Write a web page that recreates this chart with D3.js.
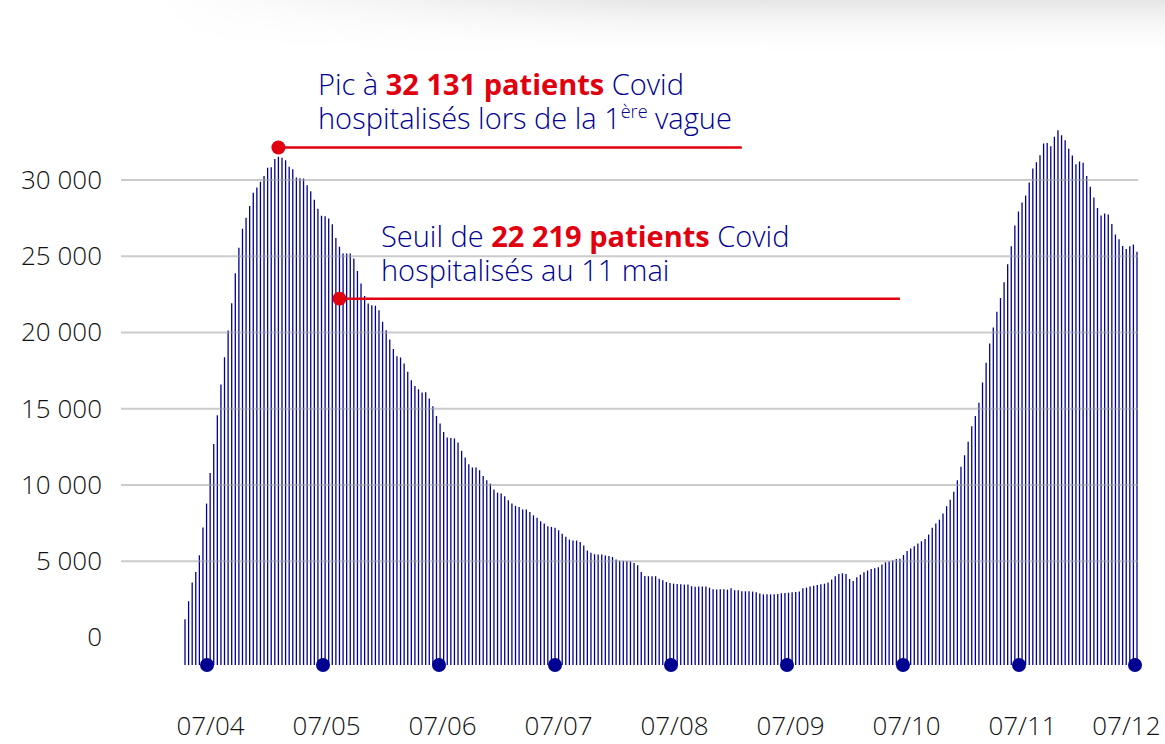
<!DOCTYPE html>
<html>
<head>
<meta charset="utf-8">
<script src="https://cdn.jsdelivr.net/npm/d3@7"></script>
<style>
  body { margin: 0; background: #fff; }
  svg { display: block; }
  svg text { font-family: 'Open Sans', Lato, sans-serif; }
  .tick text { font-size: 26px; font-weight: 300; fill: #111; }
  .note { font-size: 29px; font-weight: 300; fill: #000091; }
  .note .hl { font-weight: 700; fill: #e1000f; }
</style>
</head>
<body>
<div id="chart"></div>
<script>
// patients Covid hospitalises, un point par jour
var wave1 = [1190, 2380, 3600, 4300, 5390, 7210, 8780, 10790, 12690, 14580,
  16590, 18380, 20130, 21920, 23890, 25550, 26800, 27520, 28290, 29160,
  29510, 29880, 30270, 30800, 30840, 31370, 31520, 31460, 31300, 30870,
  30710, 30170, 30120, 30100, 29660, 29270, 28700, 28110, 27650, 27630,
  27480];
var decline = [27100, 26200, 25620, 25180, 25180, 25180, 24860, 24040, 23210, 22400,
  21900, 21790, 21750, 21460, 20700, 20150, 19540, 18910, 18450, 18360,
  17970, 17420, 16870, 16500, 16280, 16060, 16080, 15670, 15170, 14530,
  14030, 13480, 13110, 13090, 13050, 12790, 12240, 11800, 11360, 11150,
  11150, 10970, 10590, 10310, 10090, 9700, 9500, 9440, 9260, 9000,
  8780, 8630, 8560, 8390, 8390, 8230, 8010, 7860, 7620, 7470,
  7290, 7250, 7200, 7030];
var summer = [6810, 6600, 6420, 6360, 6360, 6270, 6030, 5700, 5550, 5460,
  5440, 5440, 5370, 5350, 5280, 5110, 5040, 5040, 5020, 5000,
  4890, 4740, 4300, 4040, 4020, 4020, 4020, 3860, 3750, 3640,
  3580, 3530, 3510, 3490, 3470, 3470, 3360, 3320, 3340, 3340,
  3340, 3270, 3160, 3140, 3160, 3160, 3140, 3230, 3100, 3100,
  3030, 3030, 3030, 3010, 2970, 2880, 2830, 2830, 2830, 2830,
  2860, 2900, 2920, 2940, 2970, 2990, 3010, 3230, 3270, 3340,
  3400, 3450, 3490, 3530, 3600, 3800, 4020, 4170, 4210, 4170,
  3840, 3710, 3950, 4120, 4280, 4390, 4500, 4540, 4610, 4780,
  4930, 5000, 5060, 5150, 5170, 5410, 5680, 5830, 5980, 6160,
  6310, 6460, 6750, 7190, 7470, 7730, 8130, 8610, 9040, 9550];
var wave2 = [10310, 11190, 11950, 12830, 13860, 14530, 15390, 16720, 18010, 19280,
  20330, 21360, 22270, 23300, 24480, 25660, 27020, 27940, 28530, 28990,
  29840, 30760, 31170, 31630, 32400, 32420, 32220, 32840, 33270, 32940,
  32600, 32050, 31610, 31040, 31220, 31130, 30260, 29560, 28860, 28160,
  27680, 27810, 27740, 27110, 26430, 26120, 25680, 25470, 25660, 25770,
  25290];
var patients = wave1.concat(decline, summer, wave2);

var yTicks = [0, 5000, 10000, 15000, 20000, 25000, 30000];
var monthLabels = ['07/04', '07/05', '07/06', '07/07', '07/08', '07/09', '07/10', '07/11', '07/12'];

var peakValue = 32131;
var seuilValue = 22219;
var seuilDay = 43;

var width = 1165,
  height = 744,
  barBottom = 665;

var fr = d3.formatLocale({ decimal: ',', thousands: ' ', grouping: [3], currency: ['', ' €'] });
var fmt = fr.format(',');

var svg = d3
  .select('#chart')
  .append('svg')
  .attr('width', width)
  .attr('height', height);

// fond grise en haut
var defs = svg.append('defs');
var grad = defs.append('linearGradient').attr('id', 'topfade').attr('x1', 0).attr('x2', 0).attr('y1', 0).attr('y2', 1);
grad.append('stop').attr('offset', '0%').attr('stop-color', '#e6e6e6');
grad.append('stop').attr('offset', '100%').attr('stop-color', '#fff').attr('stop-opacity', 0);
var hgrad = defs.append('linearGradient').attr('id', 'sidefade');
hgrad.append('stop').attr('offset', '0%').attr('stop-color', '#fff').attr('stop-opacity', 1);
hgrad.append('stop').attr('offset', '100%').attr('stop-color', '#fff').attr('stop-opacity', 0);
svg.append('rect').attr('x', 160).attr('y', 0).attr('width', width - 160).attr('height', 60).attr('fill', 'url(#topfade)');
svg.append('rect').attr('x', 160).attr('y', 0).attr('width', 500).attr('height', 60).attr('fill', 'url(#sidefade)');

var x = d3
  .scaleLinear()
  .domain([0, patients.length - 1])
  .range([185, 1137]);

var y = d3
  .scaleLinear()
  .domain([0, 30000])
  .range([637.5, 180]);

var xMonths = d3
  .scalePoint()
  .domain(monthLabels)
  .range([207, 1135]);

// barres
svg
  .append('g')
  .selectAll('line')
  .data(patients)
  .enter()
  .append('line')
  .attr('x1', function(d, i) { return x(i); })
  .attr('x2', function(d, i) { return x(i); })
  .attr('y1', barBottom)
  .attr('y2', function(d) { return y(d); })
  .attr('stroke', '#000091')
  .attr('stroke-width', 1.3);

// grille
svg
  .append('g')
  .selectAll('line')
  .data(yTicks.filter(function(d) { return d > 0; }))
  .enter()
  .append('line')
  .attr('x1', 121)
  .attr('x2', 1138)
  .attr('y1', function(d) { return y(d); })
  .attr('y2', function(d) { return y(d); })
  .attr('stroke', '#a0a0a0')
  .attr('stroke-opacity', 0.55)
  .attr('stroke-width', 2);

var yAxis = d3
  .axisLeft(y)
  .tickValues(yTicks)
  .tickSize(0)
  .tickPadding(0)
  .tickFormat(fmt);
svg
  .append('g')
  .attr('transform', 'translate(102,0)')
  .call(yAxis)
  .call(function(g) { g.select('.domain').remove(); });

// axe des mois
var xAxis = d3
  .axisBottom(xMonths)
  .tickSize(0)
  .tickPadding(0);
var xg = svg
  .append('g')
  .attr('transform', 'translate(0,' + (barBottom + 52) + ')')
  .call(xAxis)
  .call(function(g) { g.select('.domain').remove(); });
xg.selectAll('.tick text')
  .attr('dy', '0.71em')
  .attr('y', 0)
  .attr('text-anchor', function(d, i) { return i === monthLabels.length - 1 ? 'end' : 'middle'; })
  .attr('dx', function(d, i) { return i === monthLabels.length - 1 ? 25 : 3; });

svg
  .append('g')
  .selectAll('circle')
  .data(monthLabels)
  .enter()
  .append('circle')
  .attr('cx', function(d) { return xMonths(d); })
  .attr('cy', barBottom)
  .attr('r', 7)
  .attr('fill', '#000091');

// annotations
var peakDay = patients.indexOf(d3.max(patients.slice(0, 60)));
var notes = [
  { day: peakDay, value: peakValue, end: 155, tx: 318, ty: 95,
    line1: ['Pic à ', '32 131 patients', ' Covid'], line2: ['hospitalisés lors de la 1', 'ère', ' vague'] },
  { day: seuilDay, value: seuilValue, end: 199, tx: 381, ty: 247,
    line1: ['Seuil de ', '22 219 patients', ' Covid'], line2: ['hospitalisés au 11 mai'] }
];

notes.forEach(function(n) {
  svg.append('line')
    .attr('x1', x(n.day))
    .attr('x2', x(n.end))
    .attr('y1', y(n.value))
    .attr('y2', y(n.value))
    .attr('stroke', '#e1000f')
    .attr('stroke-width', 2.5);
  svg.append('circle')
    .attr('cx', x(n.day))
    .attr('cy', y(n.value))
    .attr('r', 7)
    .attr('fill', '#e1000f');

  var t1 = svg.append('text').attr('class', 'note').attr('x', n.tx).attr('y', n.ty);
  t1.append('tspan').text(n.line1[0]);
  t1.append('tspan').attr('class', 'hl').text(n.line1[1]);
  t1.append('tspan').text(n.line1[2]);

  var t2 = svg.append('text').attr('class', 'note').attr('x', n.tx).attr('y', n.ty + 34);
  t2.append('tspan').text(n.line2[0]);
  if (n.line2.length > 1) {
    t2.append('tspan').attr('dy', -11).style('font-size', '18px').text(n.line2[1]);
    t2.append('tspan').attr('dy', 11).text(n.line2[2]);
  }
});
</script>
</body>
</html>
